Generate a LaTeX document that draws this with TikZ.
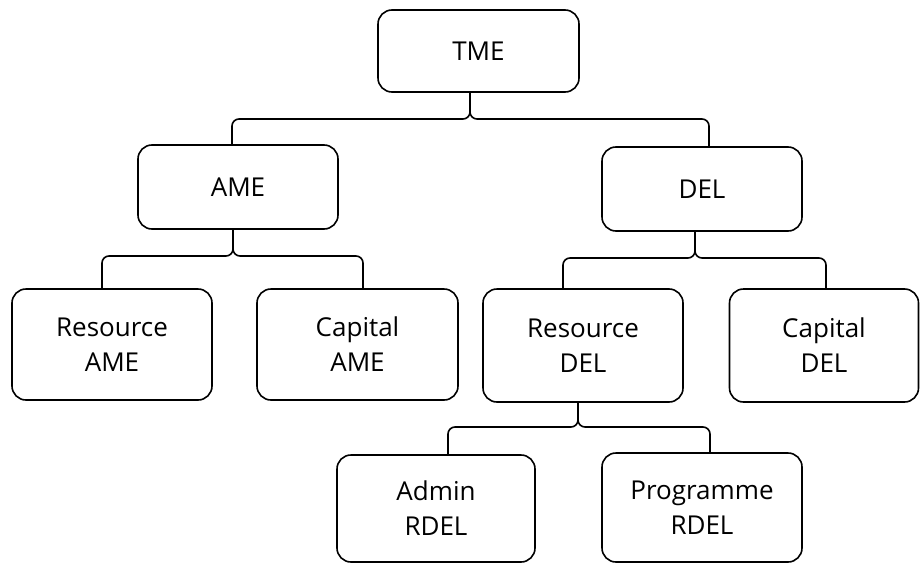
\documentclass[tikz,border=0pt]{standalone}
\usepackage{fontspec}
\setmainfont{Open Sans}
\usetikzlibrary{positioning}

\tikzset{
  box/.style={draw, line width=1.6pt, rounded corners=14pt, align=center,
    inner sep=0pt, font=\fontsize{26}{35}\selectfont},
  link/.style={draw, line width=1.6pt, rounded corners=7pt}
}

\begin{document}
\begin{tikzpicture}[x=1pt, y=-1pt]
  \useasboundingbox (0,0) rectangle (921,565);
  % boxes
  \node [box, minimum width=201pt, minimum height=82pt] (tme) at (478.5,51) {TME};
  \node [box, minimum width=200pt, minimum height=84pt] (ame) at (238,187) {AME};
  \node [box, minimum width=200pt, minimum height=84pt] (del) at (702,189) {DEL};
  \node [box, minimum width=200pt, minimum height=111pt] (resame) at (112,344.5) {Resource\\AME};
  \node [box, minimum width=201pt, minimum height=111pt] (capame) at (357.5,344.5) {Capital\\AME};
  \node [box, minimum width=200pt, minimum height=113pt] (resdel) at (583,345.5) {Resource\\DEL};
  \node [box, minimum width=189pt, minimum height=113pt] (capdel) at (824,345.5) {Capital\\DEL};
  \node [box, minimum width=198pt, minimum height=107pt] (admin) at (436,508.5) {Admin\\RDEL};
  \node [box, minimum width=200pt, minimum height=109pt] (prog) at (702,507.5) {Programme\\RDEL};
  % brace tips
  \coordinate (tmetip) at (470,119);
  \coordinate (ametip) at (233,256);
  \coordinate (deltip) at (695,258);
  \coordinate (rdeltip) at (578,427);
  % connectors
  \draw [link] ([xshift=-6pt]ame.north) |- (tmetip) -- ([xshift=-8.5pt]tme.south);
  \draw [link] ([xshift=7pt]del.north) |- (tmetip) -- ([xshift=-8.5pt]tme.south);
  \draw [link] ([xshift=-10pt]resame.north) |- (ametip) -- ([xshift=-5pt]ame.south);
  \draw [link] ([xshift=5.5pt]capame.north) |- (ametip) -- ([xshift=-5pt]ame.south);
  \draw [link] ([xshift=-20pt]resdel.north) |- (deltip) -- ([xshift=-7pt]del.south);
  \draw [link] ([xshift=2pt]capdel.north) |- (deltip) -- ([xshift=-7pt]del.south);
  \draw [link] ([xshift=12pt]admin.north) |- (rdeltip) -- ([xshift=-5pt]resdel.south);
  \draw [link] ([xshift=8pt]prog.north) |- (rdeltip) -- ([xshift=-5pt]resdel.south);
\end{tikzpicture}
\end{document}
